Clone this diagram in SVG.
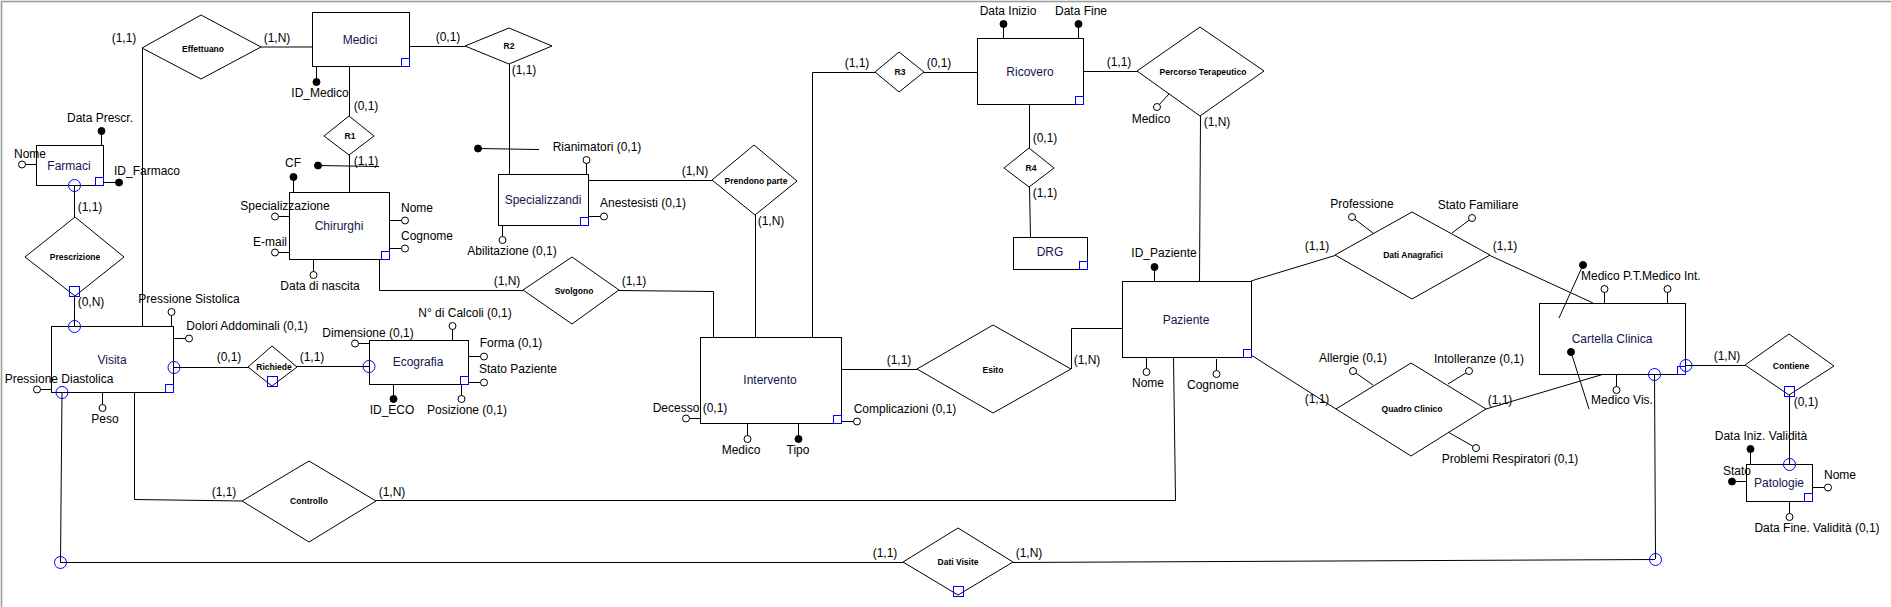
<svg xmlns="http://www.w3.org/2000/svg" width="1891" height="607" viewBox="0 0 1891 607">
<style>
text{font-family:"Liberation Sans",Arial,sans-serif;font-size:12px;fill:#000;text-anchor:middle}
.en{fill:#141450}
.rl{font-size:8.5px;font-weight:bold}
.st{text-anchor:start}
.ent{fill:#fff;stroke:#000;stroke-width:1}
.rel{fill:#fff;stroke:#000;stroke-width:1}
.ln{fill:none;stroke:#000;stroke-width:1}
.bsq{fill:none;stroke:#0000ff;stroke-width:1}
.bci{fill:none;stroke:#0000ff;stroke-width:1}
.oa{fill:#fff;stroke:#000;stroke-width:1}
.ka{fill:#000;stroke:#000;stroke-width:1}
</style>
<rect x="0" y="0" width="1891" height="607" fill="#fff"/>
<path d="M1.5 607 V1.5 H1891" fill="none" stroke="#999" stroke-width="1.5"/>

<g id="connectors">
<path class="ln" d="M142.5 48 V326"/>
<path class="ln" d="M261 47 H312"/>
<path class="ln" d="M409 46.5 H465"/>
<path class="ln" d="M349.5 66 V116"/>
<path class="ln" d="M349.5 155 V192"/>
<path class="ln" d="M318 165.5 L379 166.5"/>
<path class="ln" d="M74.5 185 V217"/>
<path class="ln" d="M74.5 296 V326"/>
<path class="ln" d="M174 367.5 H248"/>
<path class="ln" d="M297 366.5 H369"/>
<path class="ln" d="M509.5 64 V174"/>
<path class="ln" d="M478 148.5 L539 149.5"/>
<path class="ln" d="M588 180.5 H712"/>
<path class="ln" d="M755.5 215 V337"/>
<path class="ln" d="M379.5 259 V290.5 H523"/>
<path class="ln" d="M619 290.5 L713.5 291.5 V337"/>
<path class="ln" d="M875 72.5 H812.5 V337"/>
<path class="ln" d="M924 72.5 H977"/>
<path class="ln" d="M1083 71.5 H1137"/>
<path class="ln" d="M1029.5 104 V148"/>
<path class="ln" d="M1029.5 187 L1030.5 237"/>
<path class="ln" d="M1200.5 116 L1199.5 281"/>
<path class="ln" d="M841 369.5 H917"/>
<path class="ln" d="M1122 328.5 H1071.5 V369"/>
<path class="ln" d="M1173.5 357 L1175.5 500.5 H376"/>
<path class="ln" d="M242 501 L134.5 499.5 V392"/>
<path class="ln" d="M62 392 L60.5 562"/>
<path class="ln" d="M60 562.5 H903"/>
<path class="ln" d="M1013 562.5 L1655 559.5"/>
<path class="ln" d="M1654.5 374 L1655.5 559"/>
<path class="ln" d="M1251 281 L1335 255.5"/>
<path class="ln" d="M1490 255.5 L1593 303"/>
<path class="ln" d="M1251 355 L1336 409"/>
<path class="ln" d="M1486 409 L1604 374"/>
<path class="ln" d="M1686 365.5 H1745"/>
<path class="ln" d="M1789.5 395 V464"/>
<circle class="ka" cx="318" cy="165.5" r="3.5"/>
<circle class="ka" cx="478" cy="148.5" r="3.5"/>
<text x="124" y="42">(1,1)</text>
<text x="277" y="42">(1,N)</text>
<text x="448" y="41">(0,1)</text>
<text x="366" y="110">(0,1)</text>
<text x="366" y="165">(1,1)</text>
<text x="90" y="211">(1,1)</text>
<text x="91" y="306">(0,N)</text>
<text x="524" y="74">(1,1)</text>
<text x="695" y="175">(1,N)</text>
<text x="771" y="225">(1,N)</text>
<text x="507" y="285">(1,N)</text>
<text x="634" y="285">(1,1)</text>
<text x="857" y="67">(1,1)</text>
<text x="939" y="67">(0,1)</text>
<text x="1119" y="66">(1,1)</text>
<text x="1217" y="126">(1,N)</text>
<text x="1045" y="142">(0,1)</text>
<text x="1045" y="197">(1,1)</text>
<text x="229" y="361">(0,1)</text>
<text x="312" y="361">(1,1)</text>
<text x="899" y="364">(1,1)</text>
<text x="1087" y="364">(1,N)</text>
<text x="224" y="496">(1,1)</text>
<text x="392" y="496">(1,N)</text>
<text x="885" y="557">(1,1)</text>
<text x="1029" y="557">(1,N)</text>
<text x="1317" y="250">(1,1)</text>
<text x="1505" y="250">(1,1)</text>
<text x="1317" y="403">(1,1)</text>
<text x="1500" y="404">(1,1)</text>
<text x="1727" y="360">(1,N)</text>
<text x="1806" y="406">(0,1)</text>
</g>

<g id="medici">
<rect class="ent" x="312.5" y="12.5" width="97" height="54"/>
<rect class="bsq" x="401.5" y="58.5" width="8" height="8"/>
<text class="en" x="360" y="44">Medici</text>
<path class="ln" d="M316.5 66 V82"/><circle class="ka" cx="316.5" cy="82" r="3.5"/>
<text x="320" y="97">ID_Medico</text>
</g>

<g id="effettuano">
<polygon class="rel" points="142,48 201,15 261,47 201,79"/>
<text class="rl" x="203" y="52">Effettuano</text>
</g>

<g id="r2">
<polygon class="rel" points="465,46 509,28 552,46 509,64"/>
<text class="rl" x="509" y="49">R2</text>
</g>

<g id="r1">
<polygon class="rel" points="349,116 374,136 349,155 324,136"/>
<text class="rl" x="350" y="139">R1</text>
</g>

<g id="farmaci">
<rect class="ent" x="36.5" y="145.5" width="67" height="40"/>
<rect class="bsq" x="95.5" y="177.5" width="8" height="8"/>
<circle class="bci" cx="74.5" cy="185.5" r="6"/>
<text class="en" x="69" y="170">Farmaci</text>
<path class="ln" d="M101.5 131 V145"/><circle class="ka" cx="101.5" cy="131" r="3.5"/>
<text x="100" y="122">Data Prescr.</text>
<path class="ln" d="M22 164.5 H36"/><circle class="oa" cx="22" cy="164.5" r="3.5"/>
<text x="30" y="158">Nome</text>
<path class="ln" d="M103 182.5 H119"/><circle class="ka" cx="119" cy="182.5" r="3.5"/>
<text class="st" x="114" y="175">ID_Farmaco</text>
</g>

<g id="prescrizione">
<polygon class="rel" points="75,217 124,257 75,296 25,257"/>
<rect class="bsq" x="69.5" y="286.5" width="10" height="10"/>
<text class="rl" x="75" y="260">Prescrizione</text>
</g>

<g id="chirurghi">
<rect class="ent" x="289.5" y="192.5" width="100" height="67"/>
<rect class="bsq" x="381.5" y="251.5" width="8" height="8"/>
<text class="en" x="339" y="230">Chirurghi</text>
<path class="ln" d="M293.5 177 V192"/><circle class="ka" cx="293.5" cy="177" r="3.5"/>
<text x="293" y="167">CF</text>
<path class="ln" d="M275 216.5 H289"/><circle class="oa" cx="275" cy="216.5" r="3.5"/>
<text x="285" y="210">Specializzazione</text>
<path class="ln" d="M275 252.5 H289"/><circle class="oa" cx="275" cy="252.5" r="3.5"/>
<text x="270" y="246">E-mail</text>
<path class="ln" d="M389 220.5 H405"/><circle class="oa" cx="405" cy="220.5" r="3.5"/>
<text x="417" y="212">Nome</text>
<path class="ln" d="M389 248.5 H405"/><circle class="oa" cx="405" cy="248.5" r="3.5"/>
<text x="427" y="240">Cognome</text>
<path class="ln" d="M313.5 259 V275"/><circle class="oa" cx="313.5" cy="275" r="3.5"/>
<text x="320" y="290">Data di nascita</text>
</g>

<g id="specializzandi">
<rect class="ent" x="498.5" y="174.5" width="90" height="51"/>
<rect class="bsq" x="580.5" y="217.5" width="8" height="8"/>
<text class="en" x="543" y="204">Specializzandi</text>
<path class="ln" d="M586.5 160 V174"/><circle class="oa" cx="586.5" cy="160" r="3.5"/>
<text x="597" y="151">Rianimatori (0,1)</text>
<path class="ln" d="M588 216.5 H604"/><circle class="oa" cx="604" cy="216.5" r="3.5"/>
<text x="643" y="207">Anestesisti (0,1)</text>
<path class="ln" d="M502.5 225 V240"/><circle class="oa" cx="502.5" cy="240" r="3.5"/>
<text x="512" y="255">Abilitazione (0,1)</text>
</g>

<g id="prendono-parte">
<polygon class="rel" points="712,180 754,145 797,181 755,215"/>
<text class="rl" x="756" y="184">Prendono parte</text>
</g>

<g id="svolgono">
<polygon class="rel" points="523,290 572,257 619,290 572,324"/>
<text class="rl" x="574" y="294">Svolgono</text>
</g>

<g id="visita">
<rect class="ent" x="51.5" y="326.5" width="122" height="66"/>
<rect class="bsq" x="165.5" y="384.5" width="8" height="8"/>
<circle class="bci" cx="74.5" cy="326.5" r="6"/>
<circle class="bci" cx="174" cy="367.5" r="6"/>
<circle class="bci" cx="62" cy="392.5" r="6"/>
<circle class="bci" cx="60.5" cy="562.5" r="6"/>
<text class="en" x="112" y="364">Visita</text>
<path class="ln" d="M171.5 312 V326"/><circle class="oa" cx="171.5" cy="312" r="3.5"/>
<text x="189" y="303">Pressione Sistolica</text>
<path class="ln" d="M173 338.5 H189"/><circle class="oa" cx="189" cy="338.5" r="3.5"/>
<text x="247" y="330">Dolori Addominali (0,1)</text>
<path class="ln" d="M37 389.5 H51"/><circle class="oa" cx="37" cy="389.5" r="3.5"/>
<text x="59" y="383">Pressione Diastolica</text>
<path class="ln" d="M102.5 392 V408"/><circle class="oa" cx="102.5" cy="408" r="3.5"/>
<text x="105" y="423">Peso</text>
</g>

<g id="richiede">
<polygon class="rel" points="248,367 272,346 297,367 272,386"/>
<rect class="bsq" x="267.5" y="376.5" width="10" height="10"/>
<text class="rl" x="274" y="370">Richiede</text>
</g>

<g id="ecografia">
<rect class="ent" x="369.5" y="340.5" width="99" height="44"/>
<rect class="bsq" x="460.5" y="376.5" width="8" height="8"/>
<circle class="bci" cx="369" cy="366.5" r="6"/>
<text class="en" x="418" y="366">Ecografia</text>
<path class="ln" d="M355 343.5 H369"/><circle class="oa" cx="355" cy="343.5" r="3.5"/>
<text x="368" y="337">Dimensione (0,1)</text>
<path class="ln" d="M452.5 326 V341"/><circle class="oa" cx="452.5" cy="326" r="3.5"/>
<text x="465" y="317">N° di Calcoli (0,1)</text>
<path class="ln" d="M468 356.5 H484"/><circle class="oa" cx="484" cy="356.5" r="3.5"/>
<text x="511" y="347">Forma (0,1)</text>
<path class="ln" d="M468 382.5 H484"/><circle class="oa" cx="484" cy="382.5" r="3.5"/>
<text x="518" y="373">Stato Paziente</text>
<path class="ln" d="M393.5 384 V399"/><circle class="ka" cx="393.5" cy="399" r="3.5"/>
<text x="392" y="414">ID_ECO</text>
<path class="ln" d="M461.5 384 V399"/><circle class="oa" cx="461.5" cy="399" r="3.5"/>
<text x="467" y="414">Posizione (0,1)</text>
</g>

<g id="intervento">
<rect class="ent" x="700.5" y="337.5" width="141" height="86"/>
<rect class="bsq" x="833.5" y="415.5" width="8" height="8"/>
<text class="en" x="770" y="384">Intervento</text>
<path class="ln" d="M686 418.5 H700"/><circle class="oa" cx="686" cy="418.5" r="3.5"/>
<text x="690" y="412">Decesso (0,1)</text>
<path class="ln" d="M841 421.5 H857"/><circle class="oa" cx="857" cy="421.5" r="3.5"/>
<text x="905" y="413">Complicazioni (0,1)</text>
<path class="ln" d="M747.5 423 V439"/><circle class="oa" cx="747.5" cy="439" r="3.5"/>
<text x="741" y="454">Medico</text>
<path class="ln" d="M798.5 423 V439"/><circle class="ka" cx="798.5" cy="439" r="3.5"/>
<text x="798" y="454">Tipo</text>
</g>

<g id="r3">
<polygon class="rel" points="875,72 899,52 924,72 899,92"/>
<text class="rl" x="900" y="75">R3</text>
</g>

<g id="ricovero">
<rect class="ent" x="977.5" y="38.5" width="106" height="66"/>
<rect class="bsq" x="1075.5" y="96.5" width="8" height="8"/>
<text class="en" x="1030" y="76">Ricovero</text>
<path class="ln" d="M1003.5 24 V38"/><circle class="ka" cx="1003.5" cy="24" r="3.5"/>
<text x="1008" y="15">Data Inizio</text>
<path class="ln" d="M1078.5 24 V38"/><circle class="ka" cx="1078.5" cy="24" r="3.5"/>
<text x="1081" y="15">Data Fine</text>
</g>

<g id="percorso-terapeutico">
<polygon class="rel" points="1137,71 1200,27 1264,71 1200,116"/>
<text class="rl" x="1203" y="75">Percorso Terapeutico</text>
<path class="ln" d="M1169 94 L1157 107"/><circle class="oa" cx="1157" cy="107" r="3.5"/>
<text x="1151" y="123">Medico</text>
</g>

<g id="r4">
<polygon class="rel" points="1029,148 1054,168 1029,187 1004,168"/>
<text class="rl" x="1031" y="171">R4</text>
</g>

<g id="drg">
<rect class="ent" x="1013.5" y="237.5" width="74" height="32"/>
<rect class="bsq" x="1079.5" y="261.5" width="8" height="8"/>
<text class="en" x="1050" y="256">DRG</text>
</g>

<g id="esito">
<polygon class="rel" points="917,369 993,325 1071,369 993,413"/>
<text class="rl" x="993" y="373">Esito</text>
</g>

<g id="paziente">
<rect class="ent" x="1122.5" y="281.5" width="129" height="76"/>
<rect class="bsq" x="1243.5" y="349.5" width="8" height="8"/>
<text class="en" x="1186" y="324">Paziente</text>
<path class="ln" d="M1154.5 267 V281"/><circle class="ka" cx="1154.5" cy="267" r="3.5"/>
<text x="1164" y="257">ID_Paziente</text>
<path class="ln" d="M1146.5 357 V372"/><circle class="oa" cx="1146.5" cy="372" r="3.5"/>
<text x="1148" y="387">Nome</text>
<path class="ln" d="M1216.5 359 V374"/><circle class="oa" cx="1216.5" cy="374" r="3.5"/>
<text x="1213" y="389">Cognome</text>
</g>

<g id="controllo">
<polygon class="rel" points="242,501 309,461 376,501 309,542"/>
<text class="rl" x="309" y="504">Controllo</text>
</g>

<g id="dati-visite">
<polygon class="rel" points="903,562 958,528 1013,562 958,595"/>
<rect class="bsq" x="953.5" y="586.5" width="10" height="10"/>
<text class="rl" x="958" y="565">Dati Visite</text>
</g>

<g id="dati-anagrafici">
<polygon class="rel" points="1335,255 1412,212 1490,255 1412,299"/>
<text class="rl" x="1413" y="258">Dati Anagrafici</text>
<path class="ln" d="M1373 233 L1352 217"/><circle class="oa" cx="1352" cy="217" r="3.5"/>
<text x="1362" y="208">Professione</text>
<path class="ln" d="M1452 233 L1472 218"/><circle class="oa" cx="1472" cy="218" r="3.5"/>
<text x="1478" y="209">Stato Familiare</text>
</g>

<g id="quadro-clinico">
<polygon class="rel" points="1336,409 1411,363 1486,409 1411,456"/>
<text class="rl" x="1412" y="412">Quadro Clinico</text>
<path class="ln" d="M1373 385 L1353 371"/><circle class="oa" cx="1353" cy="371" r="3.5"/>
<text x="1353" y="362">Allergie (0,1)</text>
<path class="ln" d="M1448 384 L1469 371"/><circle class="oa" cx="1469" cy="371" r="3.5"/>
<text x="1479" y="363">Intolleranze (0,1)</text>
<path class="ln" d="M1448 432 L1476 448"/><circle class="oa" cx="1476" cy="448" r="3.5"/>
<text x="1510" y="463">Problemi Respiratori (0,1)</text>
</g>

<g id="cartella-clinica">
<rect class="ent" x="1539.5" y="303.5" width="146" height="71"/>
<rect class="bsq" x="1677.5" y="366.5" width="8" height="8"/>
<circle class="bci" cx="1686" cy="365.5" r="6"/>
<circle class="bci" cx="1654.5" cy="374.5" r="6"/>
<circle class="bci" cx="1655.5" cy="559.5" r="6"/>
<text class="en" x="1612" y="343">Cartella Clinica</text>
<path class="ln" d="M1604.5 289 V303"/><circle class="oa" cx="1604.5" cy="289" r="3.5"/>
<path class="ln" d="M1667.5 289 V303"/><circle class="oa" cx="1667.5" cy="289" r="3.5"/>
<text class="st" x="1581" y="280">Medico P.T.</text>
<text class="st" x="1642" y="280">Medico Int.</text>
<path class="ln" d="M1616.5 374 V390"/><circle class="oa" cx="1616.5" cy="390" r="3.5"/>
<text x="1622" y="404">Medico Vis.</text>
<path class="ln" d="M1583 265 L1559 318"/>
<path class="ln" d="M1571 352 L1589 409"/>
<circle class="ka" cx="1583" cy="265" r="3.5"/>
<circle class="ka" cx="1571" cy="352" r="3.5"/>
</g>

<g id="contiene">
<polygon class="rel" points="1745,365 1789,334 1834,366 1789,395"/>
<rect class="bsq" x="1784.5" y="386.5" width="10" height="10"/>
<text class="rl" x="1791" y="369">Contiene</text>
</g>

<g id="patologie">
<rect class="ent" x="1746.5" y="464.5" width="66" height="37"/>
<rect class="bsq" x="1804.5" y="493.5" width="8" height="8"/>
<circle class="bci" cx="1789.5" cy="464.5" r="6"/>
<text class="en" x="1779" y="487">Patologie</text>
<path class="ln" d="M1750.5 449 V464"/><circle class="ka" cx="1750.5" cy="449" r="3.5"/>
<text x="1761" y="440">Data Iniz. Validità</text>
<path class="ln" d="M1732 481.5 H1746"/><circle class="ka" cx="1732" cy="481.5" r="3.5"/>
<text x="1737" y="475">Stato</text>
<path class="ln" d="M1812 487.5 H1828"/><circle class="oa" cx="1828" cy="487.5" r="3.5"/>
<text x="1840" y="479">Nome</text>
<path class="ln" d="M1789.5 501 V517"/><circle class="oa" cx="1789.5" cy="517" r="3.5"/>
<text x="1817" y="532">Data Fine. Validità (0,1)</text>
</g>
</svg>
